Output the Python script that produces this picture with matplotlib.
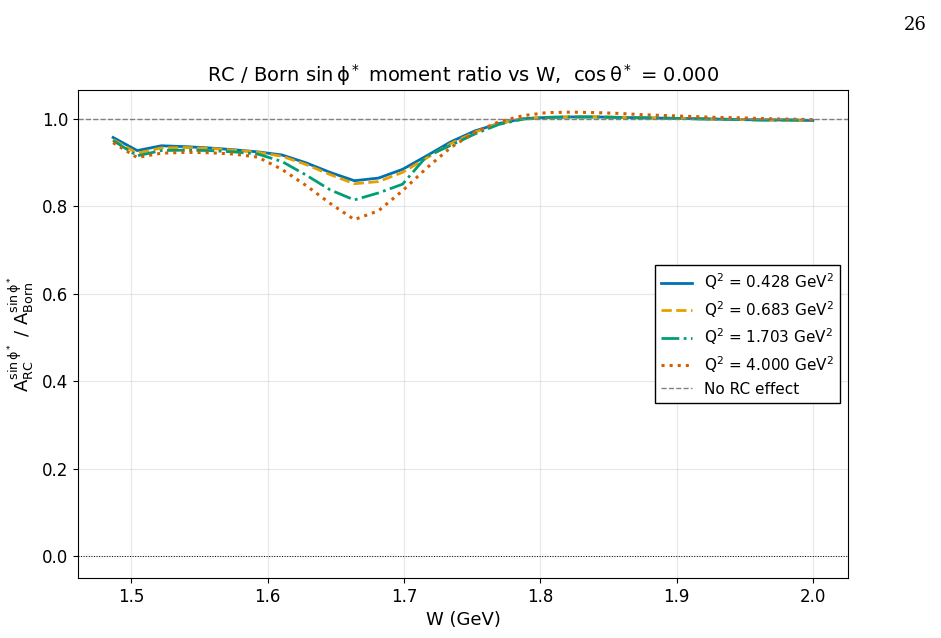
import numpy as np
import matplotlib.pyplot as plt

# ------------------------------------------------------------
# data
# ------------------------------------------------------------
W = [1.4865, 1.5042, 1.5219, 1.5396, 1.5573, 1.5750, 1.5927, 1.6104,
     1.6281, 1.6458, 1.6635, 1.6812, 1.6989, 1.7166, 1.7343, 1.7520,
     1.7697, 1.7874, 1.8051, 1.8228, 1.8405, 1.8582, 1.8759, 1.8936,
     1.9113, 1.9290, 1.9467, 1.9644, 1.9821, 2.0000]

ratio_q0428 = [0.958, 0.928, 0.939, 0.937, 0.934, 0.930, 0.925, 0.918,
               0.900, 0.878, 0.859, 0.865, 0.885, 0.916, 0.948, 0.973,
               0.990, 1.001, 1.004, 1.005, 1.005, 1.004, 1.003, 1.002,
               1.001, 1.000, 0.999, 0.998, 0.998, 0.997]
ratio_q0683 = [0.953, 0.922, 0.934, 0.935, 0.933, 0.929, 0.924, 0.915,
               0.896, 0.873, 0.852, 0.857, 0.878, 0.911, 0.944, 0.970,
               0.990, 1.001, 1.004, 1.005, 1.005, 1.004, 1.003, 1.002,
               1.001, 1.000, 0.999, 0.998, 0.998, 0.997]
ratio_q1703 = [0.951, 0.916, 0.928, 0.929, 0.928, 0.925, 0.920, 0.903,
               0.872, 0.838, 0.815, 0.831, 0.851, 0.915, 0.940, 0.966,
               0.988, 1.000, 1.004, 1.005, 1.005, 1.004, 1.003, 1.002,
               1.001, 1.000, 0.999, 0.998, 0.998, 0.997]
ratio_q4000 = [0.946, 0.912, 0.922, 0.924, 0.923, 0.920, 0.913, 0.885,
               0.848, 0.807, 0.770, 0.790, 0.836, 0.888, 0.935, 0.970,
               0.994, 1.008, 1.015, 1.016, 1.015, 1.013, 1.010, 1.008,
               1.006, 1.004, 1.003, 1.001, 1.000, 0.999]

q2_labels = ['0.428', '0.683', '1.703', '4.000']

# ------------------------------------------------------------
# plot
# ------------------------------------------------------------
plt.rcParams['mathtext.default'] = 'regular'

fig = plt.figure(figsize=(9.41, 6.38), dpi=100)
ax = fig.add_axes([0.083, 0.094, 0.818, 0.765])

series = [ratio_q0428, ratio_q0683, ratio_q1703, ratio_q4000]
styles = [('#0072B2', '-', 2.0), ('#E69F00', '--', 2.0),
          ('#009E73', '-.', 2.0), ('#D55E00', ':', 2.2)]

for vals, lab, (col, ls, lw) in zip(series, q2_labels, styles):
    ax.plot(W, vals, ls, color=col, lw=lw, label=rf'Q$^2$ = {lab} GeV$^2$')

ax.axhline(1.0, color='gray', ls='--', lw=1.0, label='No RC effect')
ax.axhline(0.0, color='black', ls=':', lw=0.7)

ax.set_title(r'RC / Born $\sin\phi^*$ moment ratio vs W,  $\cos\theta^*$ = 0.000',
             fontsize=14)
ax.set_xlabel('W (GeV)', fontsize=13)
ax.set_ylabel(r'$A_{RC}^{\sin\phi^*}$ / $A_{Born}^{\sin\phi^*}$',
              fontsize=13)
ax.tick_params(labelsize=12)
ax.grid(True, alpha=0.3)
ax.legend(loc='center right', fontsize=11, fancybox=False,
          edgecolor='black', framealpha=1.0, labelspacing=0.45)

fig.text(0.985, 0.975, '26', ha='right', va='top', fontsize=13,
         family='DejaVu Serif')

plt.savefig('out.png', dpi=100)
